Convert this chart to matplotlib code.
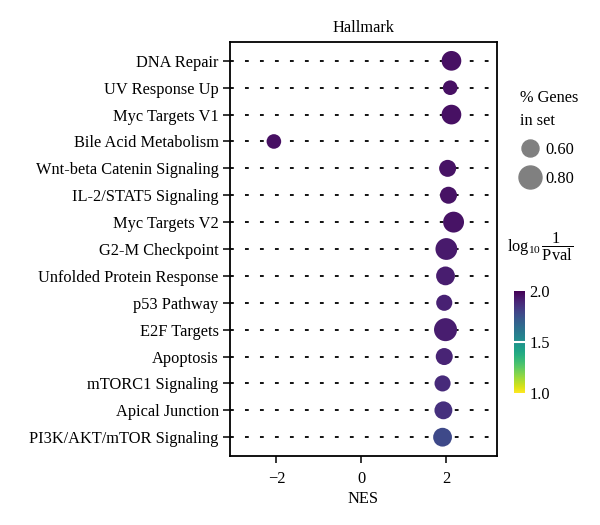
import matplotlib
matplotlib.use('Agg')
import matplotlib.pyplot as plt
from matplotlib.lines import Line2D

plt.rcParams['font.family'] = ['Liberation Serif', 'DejaVu Serif']
plt.rcParams['mathtext.fontset'] = 'custom'
plt.rcParams['mathtext.rm'] = 'Liberation Serif'
plt.rcParams['mathtext.it'] = 'Liberation Serif:italic'

pathways = ['DNA Repair', 'UV Response Up', 'Myc Targets V1', 'Bile Acid Metabolism',
            'Wnt-beta Catenin Signaling', 'IL-2/STAT5 Signaling', 'Myc Targets V2',
            'G2-M Checkpoint', 'Unfolded Protein Response', 'p53 Pathway', 'E2F Targets',
            'Apoptosis', 'mTORC1 Signaling', 'Apical Junction', 'PI3K/AKT/mTOR Signaling']
nes = [2.13, 2.10, 2.13, -2.06, 2.04, 2.06, 2.18, 2.01, 1.99, 1.96, 1.99, 1.96, 1.92, 1.94, 1.92]
gene_ratio = [0.69, 0.52, 0.69, 0.52, 0.60, 0.60, 0.73, 0.76, 0.66, 0.57, 0.80, 0.60, 0.57, 0.63, 0.66]
log_p = [1.96, 1.96, 1.96, 1.96, 1.95, 1.95, 1.95, 1.93, 1.92, 1.91, 1.92, 1.9, 1.88, 1.86, 1.78]
legend_ratios = [0.60, 0.80]


def diam(g):
    # marker diameter in points, linear in gene ratio
    return (30 * g - 1) * 0.72


fig = plt.figure(figsize=(6, 5.25), dpi=100)
ax = fig.add_axes([0.383, 0.1314, 0.445, 0.7886])

ypos = list(range(len(pathways)))
for y in ypos:
    ax.axhline(y, color='black', lw=1.3, ls=(0, (2.1, 6.2)), zorder=1)

sc = ax.scatter(nes, ypos, s=[diam(g) ** 2 for g in gene_ratio], c=log_p,
                cmap='viridis_r', vmin=1, vmax=2, zorder=3, linewidths=0)

ax.set_xlim(-3.1, 3.2)
ax.set_ylim(len(pathways) - 0.3, -0.7)
ax.set_yticks(ypos)
ax.set_yticklabels(pathways, fontsize=11.8)
ax.set_xticks([-2, 0, 2])
ax.set_xticklabels(['\u22122', '0', '2'], fontsize=11.8)
ax.tick_params(length=5, width=1.1)
ax.tick_params(axis='y', pad=3)
ax.tick_params(axis='x', pad=6)
ax.set_xlabel('NES', fontsize=11.8, labelpad=3)
ax.set_title('Hallmark', fontsize=11.8, pad=7)
for sp in ax.spines.values():
    sp.set_linewidth(1.3)

handles = [Line2D([], [], ls='', marker='o', markersize=diam(g),
                  markerfacecolor='grey', markeredgecolor='grey') for g in legend_ratios]
leg = ax.legend(handles, ['%.2f' % g for g in legend_ratios], title='% Genes\nin set',
                loc='upper left', bbox_to_anchor=(1.087, 0.885), frameon=False,
                fontsize=11.8, title_fontsize=11.8, handlelength=1.2, handletextpad=0.35,
                labelspacing=0.8, borderaxespad=0, borderpad=0)
leg._legend_box.align = 'left'
leg.get_title().set_linespacing(1.6)

cax = fig.add_axes([514 / 600, 1 - 393 / 525, 11 / 600, 102 / 525])
cb = fig.colorbar(sc, cax=cax, ticks=[1.0, 1.5, 2.0])
cb.outline.set_visible(False)
cb.ax.tick_params(length=0, labelsize=11.8, pad=3)
cb.ax.axhline(1.5, color='white', lw=1.5)
fig.text(507 / 600, 1 - 247 / 525, r'log$_{10}\,\dfrac{1}{\mathrm{Pval}}$', fontsize=11.8,
         va='center', ha='left')

fig.savefig('out.png', dpi=100)
